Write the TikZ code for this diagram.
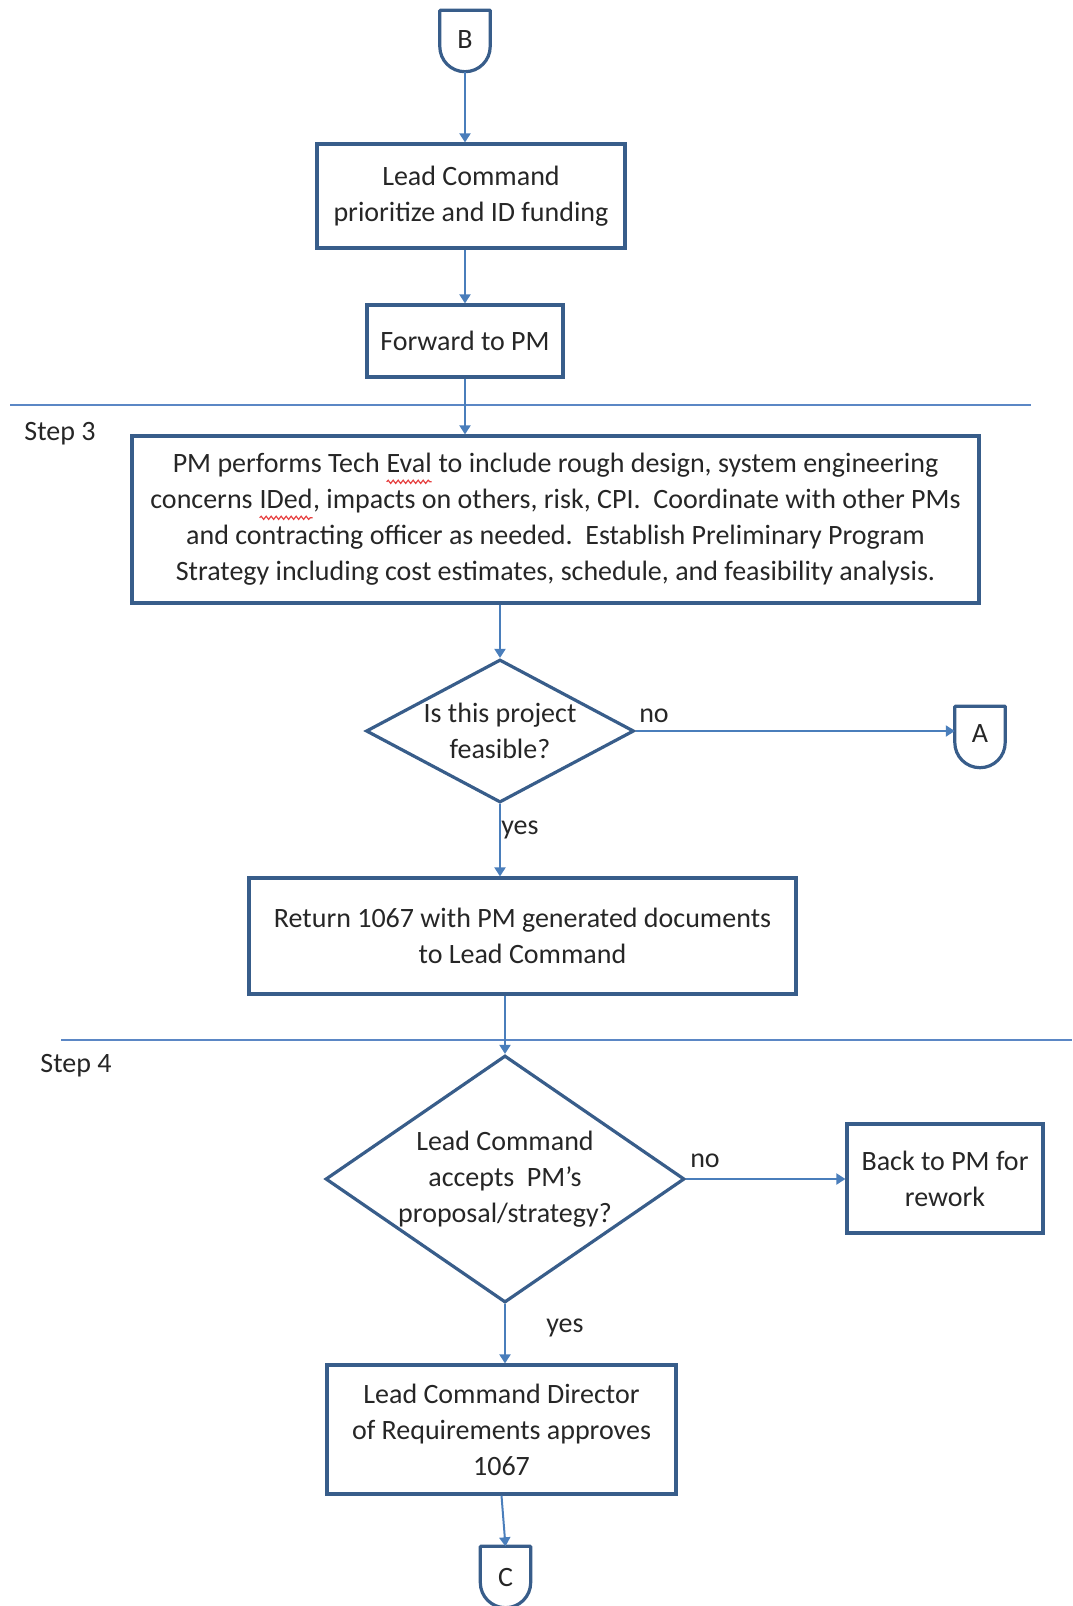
\documentclass[tikz,border=0pt]{standalone}
\usepackage{fontspec}
\setmainfont{Carlito}
\usetikzlibrary{shapes.geometric,arrows.meta,decorations.pathmorphing}
\definecolor{boxblue}{HTML}{385D8A}
\definecolor{linkblue}{HTML}{4A7EBB}
\definecolor{ruleblue}{HTML}{5B87C5}
\definecolor{inkgray}{HTML}{262626}
\definecolor{spellred}{HTML}{E64040}
\newcommand{\spellmark}[1]{\tikz[baseline=(sw.base)]{\node[shape=rectangle,draw=none,inner sep=0pt,outer sep=0pt,minimum width=0pt,minimum height=0pt,anchor=base](sw){#1};\draw[spellred,line width=1.2pt,decorate,decoration={snake,amplitude=1.6pt,segment length=5pt}]([yshift=-9pt]sw.base west)--([yshift=-9pt]sw.base east);}}
\begin{document}
\begin{tikzpicture}[x=1pt,y=1pt,
  stepbox/.style={draw=boxblue, line width=3.2pt, align=center, text=inkgray, font=\fontsize{28}{36}\selectfont, inner sep=0pt},
  decision/.style={diamond, draw=boxblue, line width=3.2pt, inner sep=0pt},
  decisiontext/.style={align=center, text=inkgray, font=\fontsize{28}{36}\selectfont, inner sep=0pt},
  offpage/.style={inner sep=0pt, minimum width=50pt, minimum height=61pt, text=inkgray, font=\fontsize{28}{32}\selectfont},
  shieldline/.style={draw=boxblue, line width=3.2pt, line join=round},
  link/.style={draw=linkblue, line width=2pt, -{Triangle[width=11pt,length=9pt]}},
  lbl/.style={text=inkgray, font=\fontsize{28}{36}\selectfont, inner sep=0pt},
  steprule/.style={draw=ruleblue, line width=2.5pt}]
\useasboundingbox (0,0) rectangle (1072,-1606);
\node[offpage] (B) at (465,-41){\raisebox{2pt}{B}};
\node[stepbox, minimum width=308pt, minimum height=104pt] (lead) at (471,-196){Lead Command\\prioritize and ID funding};
\node[stepbox, minimum width=196pt, minimum height=72pt] (fwd) at (465,-341){Forward to PM};
\draw[steprule] (10,-405) -- (1031,-405);
\node[lbl] (step3) at (60,-434){Step 3};
\node[stepbox, minimum width=847pt, minimum height=167pt] (eval) at (555.5,-519.5){PM performs Tech \spellmark{Eval} to include rough design, system engineering\\concerns \spellmark{IDed}, impacts on others, risk, CPI.\ \ Coordinate with other PMs\\and contracting officer as needed.\ \ Establish Preliminary Program\\Strategy including cost estimates, schedule, and feasibility analysis.};
\node[decision, minimum width=268pt, minimum height=143pt, label={[decisiontext]center:Is this project\\feasible?}] (feas) at (500,-731){};
\node[offpage] (A) at (980,-737){\raisebox{6pt}{A}};
\node[lbl] (no1) at (654,-716){no};
\node[lbl] (yes1) at (520,-830){yes};
\node[stepbox, minimum width=547pt, minimum height=116pt] (ret) at (522.5,-936){Return 1067 with PM generated documents\\to Lead Command};
\draw[steprule] (61,-1040) -- (1072,-1040);
\node[lbl] (step4) at (76,-1066){Step 4};
\node[decision, minimum width=359pt, minimum height=247pt, label={[decisiontext]center:Lead Command\\accepts\ \ PM’s\\proposal/strategy?}] (accept) at (505,-1179){};
\node[lbl] (no2) at (705,-1161){no};
\node[stepbox, minimum width=196pt, minimum height=109pt] (rework) at (945,-1178.5){Back to PM for\\rework};
\node[lbl] (yes2) at (565,-1328){yes};
\node[stepbox, minimum width=349pt, minimum height=129pt] (approve) at (501.5,-1429.5){Lead Command Director\\of Requirements approves\\1067};
\node[offpage] (C) at (505.5,-1577){\raisebox{-4pt}{C}};
\foreach \n in {A,B,C}
  \draw[shieldline] (\n.north west) -- (\n.north east) -- ([yshift=-5.5pt]\n.east) to[out=-90,in=0] (\n.south) to[out=180,in=-90] ([yshift=-5.5pt]\n.west) -- cycle;
\draw[link] (B.south) -- (B.south |- lead.north);
\draw[link] (lead.south -| fwd.north) -- (fwd.north);
\draw[link] (fwd.south) -- (fwd.south |- eval.north);
\draw[link] (eval.south -| feas.north) -- (feas.north);
\draw[link] (feas.east) -- (feas.east -| A.west);
\draw[link] (feas.south) -- (feas.south |- ret.north);
\draw[link] (ret.south -| accept.north) -- (accept.north);
\draw[link] (accept.east) -- (accept.east -| rework.west);
\draw[link] (accept.south) -- (accept.south |- approve.north);
\draw[link] (approve.south) -- (C.north);
\end{tikzpicture}
\end{document}
